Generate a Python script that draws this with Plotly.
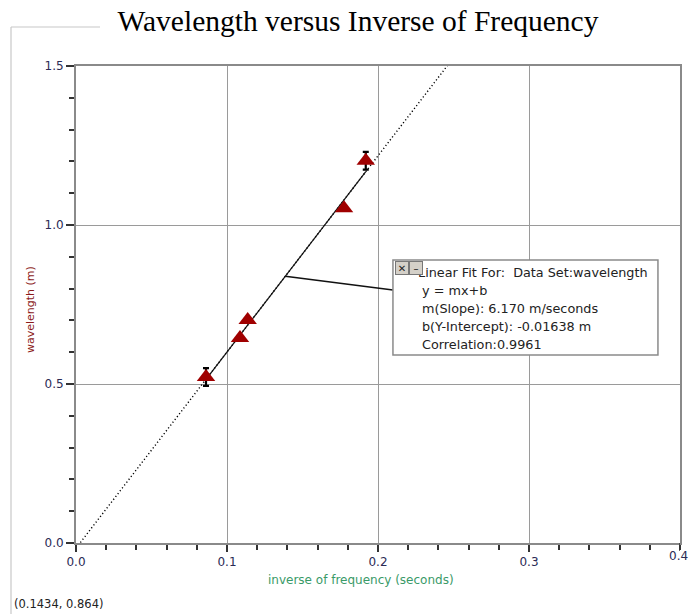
import plotly.graph_objects as go

# Data
inv_freq = [0.0861, 0.1086, 0.1137, 0.1775, 0.1919]
wavelength = [0.522, 0.645, 0.701, 1.053, 1.202]
err = [0.028, 0, 0, 0, 0.028]

slope = 6.170
intercept = -0.01638

x_ticks = [0.0, 0.1, 0.2, 0.3, 0.4]
y_ticks = [0.0, 0.5, 1.0, 1.5]

fit_text_lines = [
    "Linear Fit For:  Data Set:wavelength",
    "y = mx+b",
    "m(Slope): 6.170 m/seconds",
    "b(Y-Intercept): -0.01638 m",
    "Correlation:0.9961",
]
cursor_text = "(0.1434, 0.864)"

x_full = [0.0, 0.27]
y_full = [slope * v + intercept for v in x_full]
x_fit = [min(inv_freq), max(inv_freq)]
y_fit = [slope * v + intercept for v in x_fit]

# connector from fit line to the box
cx = 0.1386
cy = slope * cx + intercept

fig = go.Figure()
fig.add_trace(go.Scatter(x=x_full, y=y_full, mode="lines",
                         line=dict(color="#000000", width=1.4, dash="1.2px,2.4px"),
                         hoverinfo="skip", showlegend=False))
fig.add_trace(go.Scatter(x=x_fit, y=y_fit, mode="lines",
                         line=dict(color="#111111", width=1.2),
                         hoverinfo="skip", showlegend=False))
fig.add_trace(go.Scatter(x=inv_freq, y=wavelength, mode="markers",
                         marker=dict(symbol="triangle-up", size=16, color="#a00000"),
                         error_y=dict(type="data", array=err, visible=True,
                                      color="black", thickness=2.2, width=3),
                         showlegend=False))

tick_font = dict(family="DejaVu Sans", size=12, color="#2b2b55")

fig.update_xaxes(range=[0, 0.4], tickvals=x_ticks[:-1], ticktext=[f"{v:.1f}" for v in x_ticks[:-1]],
                 showgrid=True, gridcolor="#9a9a9a", gridwidth=1,
                 showline=True, linecolor="#8a8a8a", linewidth=2, mirror=True,
                 ticks="outside", ticklen=7, tickcolor="#333", tickwidth=1.5,
                 minor=dict(dtick=0.02, tick0=0, ticks="outside", ticklen=5,
                            tickcolor="#333", showgrid=False),
                 zeroline=False, tickfont=tick_font, automargin=False)
fig.update_yaxes(range=[0, 1.5], tickvals=y_ticks, ticktext=[f"{v:.1f}" for v in y_ticks],
                 showgrid=True, gridcolor="#9a9a9a", gridwidth=1,
                 showline=True, linecolor="#8a8a8a", linewidth=2, mirror=True,
                 ticks="outside", ticklen=8, tickcolor="#333", tickwidth=1.5,
                 minor=dict(dtick=0.1, tick0=0, ticks="outside", ticklen=5,
                            tickcolor="#333", showgrid=False),
                 zeroline=False, tickfont=tick_font, automargin=False)

# Plot area in pixels: left 76, right 680, top 66, bottom 543
L, R, T, B = 76, 680, 66, 543
W, H = 688, 614

def px_x(p):
    return (p - L) / (R - L)

def px_y(p):
    return (B - p) / (B - T)

shapes = []
box_x0, box_x1 = 0.2099, 0.3854
box_y0, box_y1 = (B - 355) / 318.0, (B - 260) / 318.0
shapes.append(dict(type="line", xref="x", yref="y", x0=cx, y0=cy, x1=box_x0, y1=0.7956,
                   line=dict(color="#111", width=1.4)))
shapes.append(dict(type="rect", xref="x", yref="y", x0=box_x0, x1=box_x1, y0=box_y0, y1=box_y1,
                   fillcolor="white", line=dict(color="#8a8a8a", width=1.5), layer="above"))
# tick mark at 0.4
shapes.append(dict(type="line", xref="x", yref="paper", x0=x_ticks[-1], x1=x_ticks[-1],
                   y0=0, y1=px_y(B + 8), line=dict(color="#333", width=1.5)))
# group-box frame lines
shapes.append(dict(type="line", xref="paper", yref="paper", x0=px_x(11), x1=px_x(100),
                   y0=px_y(27), y1=px_y(27), line=dict(color="#c8c8c8", width=1.2)))
shapes.append(dict(type="line", xref="paper", yref="paper", x0=px_x(11), x1=px_x(11),
                   y0=px_y(27), y1=px_y(614), line=dict(color="#c8c8c8", width=1.2)))

annotations = []
# last x tick label at the window edge
annotations.append(dict(text=f"{x_ticks[-1]:.1f}", xref="x", yref="paper", x=x_ticks[-1],
                        y=px_y(556), xanchor="center", yanchor="middle", showarrow=False,
                        xshift=-2, font=tick_font))
box_font = dict(family="DejaVu Sans", size=12.8, color="#222222")
line_y = [272, 290, 308, 326, 344]
line_x = [416, 420, 420, 420, 420]
for t, py, pxx in zip(fit_text_lines, line_y, line_x):
    annotations.append(dict(text=t, xref="paper", yref="paper", x=px_x(pxx), y=px_y(py),
                            xanchor="left", yanchor="middle", showarrow=False, font=box_font))
# buttons
annotations.append(dict(text="✕", xref="paper", yref="paper", x=px_x(402), y=px_y(268),
                        xanchor="center", yanchor="middle", showarrow=False,
                        font=dict(family="DejaVu Sans", size=10, color="#222"),
                        bgcolor="#d4d0c8", bordercolor="#777", borderwidth=1, borderpad=0,
                        width=12, height=12))
annotations.append(dict(text="–", xref="paper", yref="paper", x=px_x(416), y=px_y(268),
                        xanchor="center", yanchor="middle", showarrow=False,
                        font=dict(family="DejaVu Sans", size=10, color="#222"),
                        bgcolor="#d4d0c8", bordercolor="#777", borderwidth=1, borderpad=0,
                        width=12, height=12))
# axis titles
annotations.append(dict(text="inverse of frequency (seconds)", xref="paper", yref="paper",
                        x=px_x(361), y=px_y(580), xanchor="center", yanchor="middle",
                        showarrow=False, font=dict(family="DejaVu Sans", size=12, color="#3a9a68")))
annotations.append(dict(text="wavelength (m)", xref="paper", yref="paper",
                        x=px_x(30), y=px_y(310), xanchor="center", yanchor="middle",
                        textangle=-90, showarrow=False,
                        font=dict(family="DejaVu Sans", size=11, color="#8b1a1a")))
annotations.append(dict(text=cursor_text, xref="paper", yref="paper",
                        x=px_x(12), y=px_y(604), xanchor="left", yanchor="middle",
                        showarrow=False, font=dict(family="DejaVu Sans", size=11.5, color="#222")))

fig.update_layout(
    width=W, height=H,
    margin=dict(l=L, r=W - R, t=T, b=H - B, autoexpand=False),
    paper_bgcolor="white", plot_bgcolor="white",
    title=dict(text="Wavelength versus Inverse of Frequency", x=358 / W, xanchor="center",
               y=1 - 21 / H, yanchor="middle", yref="container",
               font=dict(family="Liberation Serif", size=29.5, color="black")),
    shapes=shapes, annotations=annotations,
)

fig.write_html("out.html", config={"displayModeBar": False})

# remove default page margin so the figure sits at the window's top-left corner
with open("out.html", "r", encoding="utf-8") as f:
    html = f.read()
html = html.replace("<head>", "<head><style>html,body{margin:0;padding:0;overflow:hidden;}</style>", 1)
with open("out.html", "w", encoding="utf-8") as f:
    f.write(html)
